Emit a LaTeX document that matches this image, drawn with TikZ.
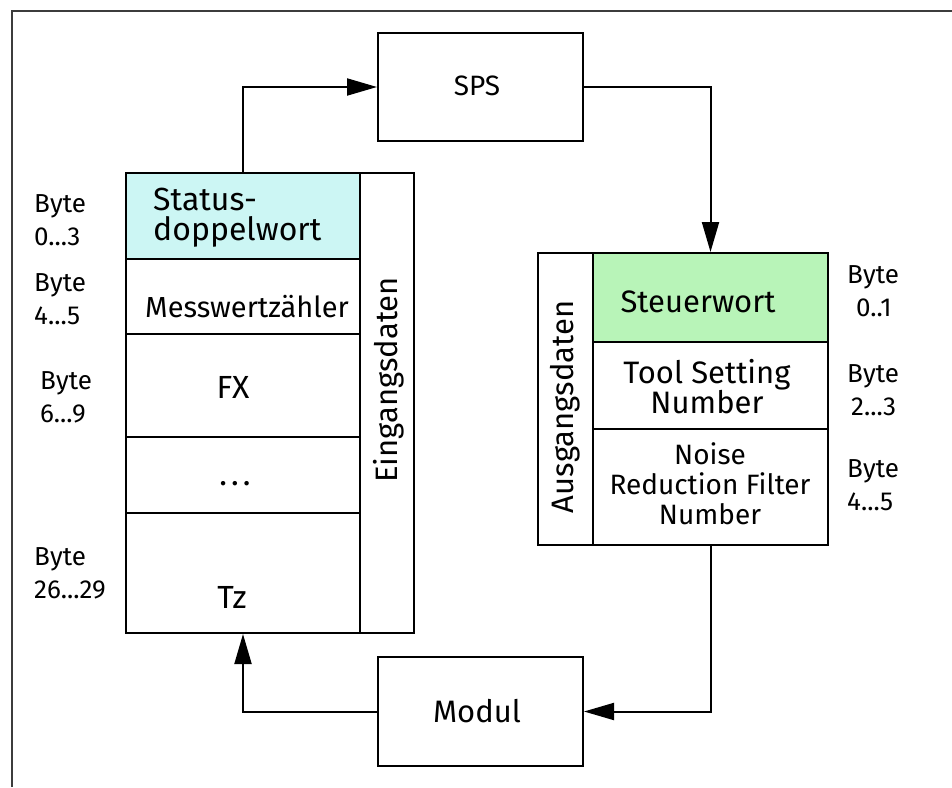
\documentclass[tikz,border=0pt]{standalone}
\usepackage{fontspec}
\setmainfont{Fira Sans}
\usetikzlibrary{arrows.meta}
\definecolor{statfill}{HTML}{CCF6F4}
\definecolor{steufill}{HTML}{B8F4B8}
\definecolor{framegray}{HTML}{3C3C3C}
\newcommand{\fsz}[2]{\fontsize{#1}{#2}\selectfont}
\begin{document}
\begin{tikzpicture}[x=1pt,y=-1pt,
  box/.style={draw=black, line width=2pt, inner sep=0pt, rectangle},
  lbl/.style={inner sep=0pt, font=\fsz{30}{30}, align=center},
  bytelbl/.style={inner sep=0pt, font=\fsz{26}{33}, align=left, anchor=west},
  arr/.style={draw=black, line width=2pt, -{Triangle[length=30pt,width=17pt]}}]
  \useasboundingbox (0,0) rectangle (952,787);
  % frame
  \draw[framegray, line width=2pt] (12,787) -- (12,11) -- (952,11);

  % control unit and module
  \node[box, minimum width=205pt, minimum height=108pt] (sps) at (480.5,87) {};
  \node[lbl, font=\fsz{28}{30}] (spst) at (477,86) {SPS};
  \node[box, minimum width=205pt, minimum height=109pt] (modul) at (480.5,711.5) {};
  \node[lbl, font=\fsz{31}{30}] (modult) at (477,711) {Modul};

  % input data stack
  \node[box, fill=statfill, minimum width=234pt, minimum height=86pt] (stat) at (243,216) {};
  \node[box, minimum width=234pt, minimum height=75pt] (mess) at (243,296.5) {};
  \node[box, minimum width=234pt, minimum height=103pt] (fx) at (243,385.5) {};
  \node[box, minimum width=234pt, minimum height=76pt] (dots) at (243,475) {};
  \node[box, minimum width=234pt, minimum height=120pt] (tz) at (243,573) {};
  \node[box, minimum width=54pt, minimum height=460pt] (ein) at (387,403) {};

  \node[lbl, anchor=west, align=left, font=\fsz{32}{30}] (statt) at (153,218) {Status-\\doppelwort};
  \node[lbl, font=\fsz{29}{30}] (messt) at (247,307) {Messwertzähler};
  \node[lbl, font=\fsz{32}{30}] (fxt) at (233,387) {FX};
  \node[lbl, font=\fsz{32}{30}] (dotst) at (235,484) {.\kern4pt.\kern4pt.};
  \node[lbl, font=\fsz{32}{30}] (tzt) at (232,597) {Tz};
  \node[lbl, rotate=90, font=\fsz{31}{30}] (eint) at (389,380) {Eingangsdaten};

  \node[bytelbl] (b03) at (34,220) {Byte\\0...3};
  \node[bytelbl] (b45) at (34,299) {Byte\\4...5};
  \node[bytelbl] (b69) at (40,397) {Byte\\6...9};
  \node[bytelbl] (b2629) at (34,573) {Byte\\26...29};

  % output data stack
  \node[box, minimum width=55pt, minimum height=292pt] (aus) at (565.5,399) {};
  \node[box, fill=steufill, minimum width=235pt, minimum height=89pt] (steu) at (710.5,297.5) {};
  \node[box, minimum width=235pt, minimum height=87pt] (tool) at (710.5,385.5) {};
  \node[box, minimum width=235pt, minimum height=116pt] (noise) at (710.5,487) {};

  \node[lbl, rotate=90, font=\fsz{31}{30}] (aust) at (565.5,407) {Ausgangsdaten};
  \node[lbl, font=\fsz{31}{30}] (steut) at (698,302) {Steuerwort};
  \node[lbl, font=\fsz{31}{30}] (toolt) at (707,387) {Tool Setting\\Number};
  \node[lbl, font=\fsz{28}{30}] (noiset) at (710,484) {Noise\\Reduction Filter\\Number};

  \node[bytelbl] (b01) at (847,291) {Byte\\\hspace*{9pt}0..1};
  \node[bytelbl] (b23) at (847,390) {Byte\\\hspace*{4pt}2...3};
  \node[bytelbl] (b45o) at (847,485) {Byte\\4...5};

  % data flow
  \draw[arr] (stat.north) |- (sps.west);
  \draw[arr] (sps.east) -| (steu.north);
  \draw[arr] (noise.south) |- (modul.east);
  \draw[arr] (modul.west) -| (tz.south);
\end{tikzpicture}
\end{document}
